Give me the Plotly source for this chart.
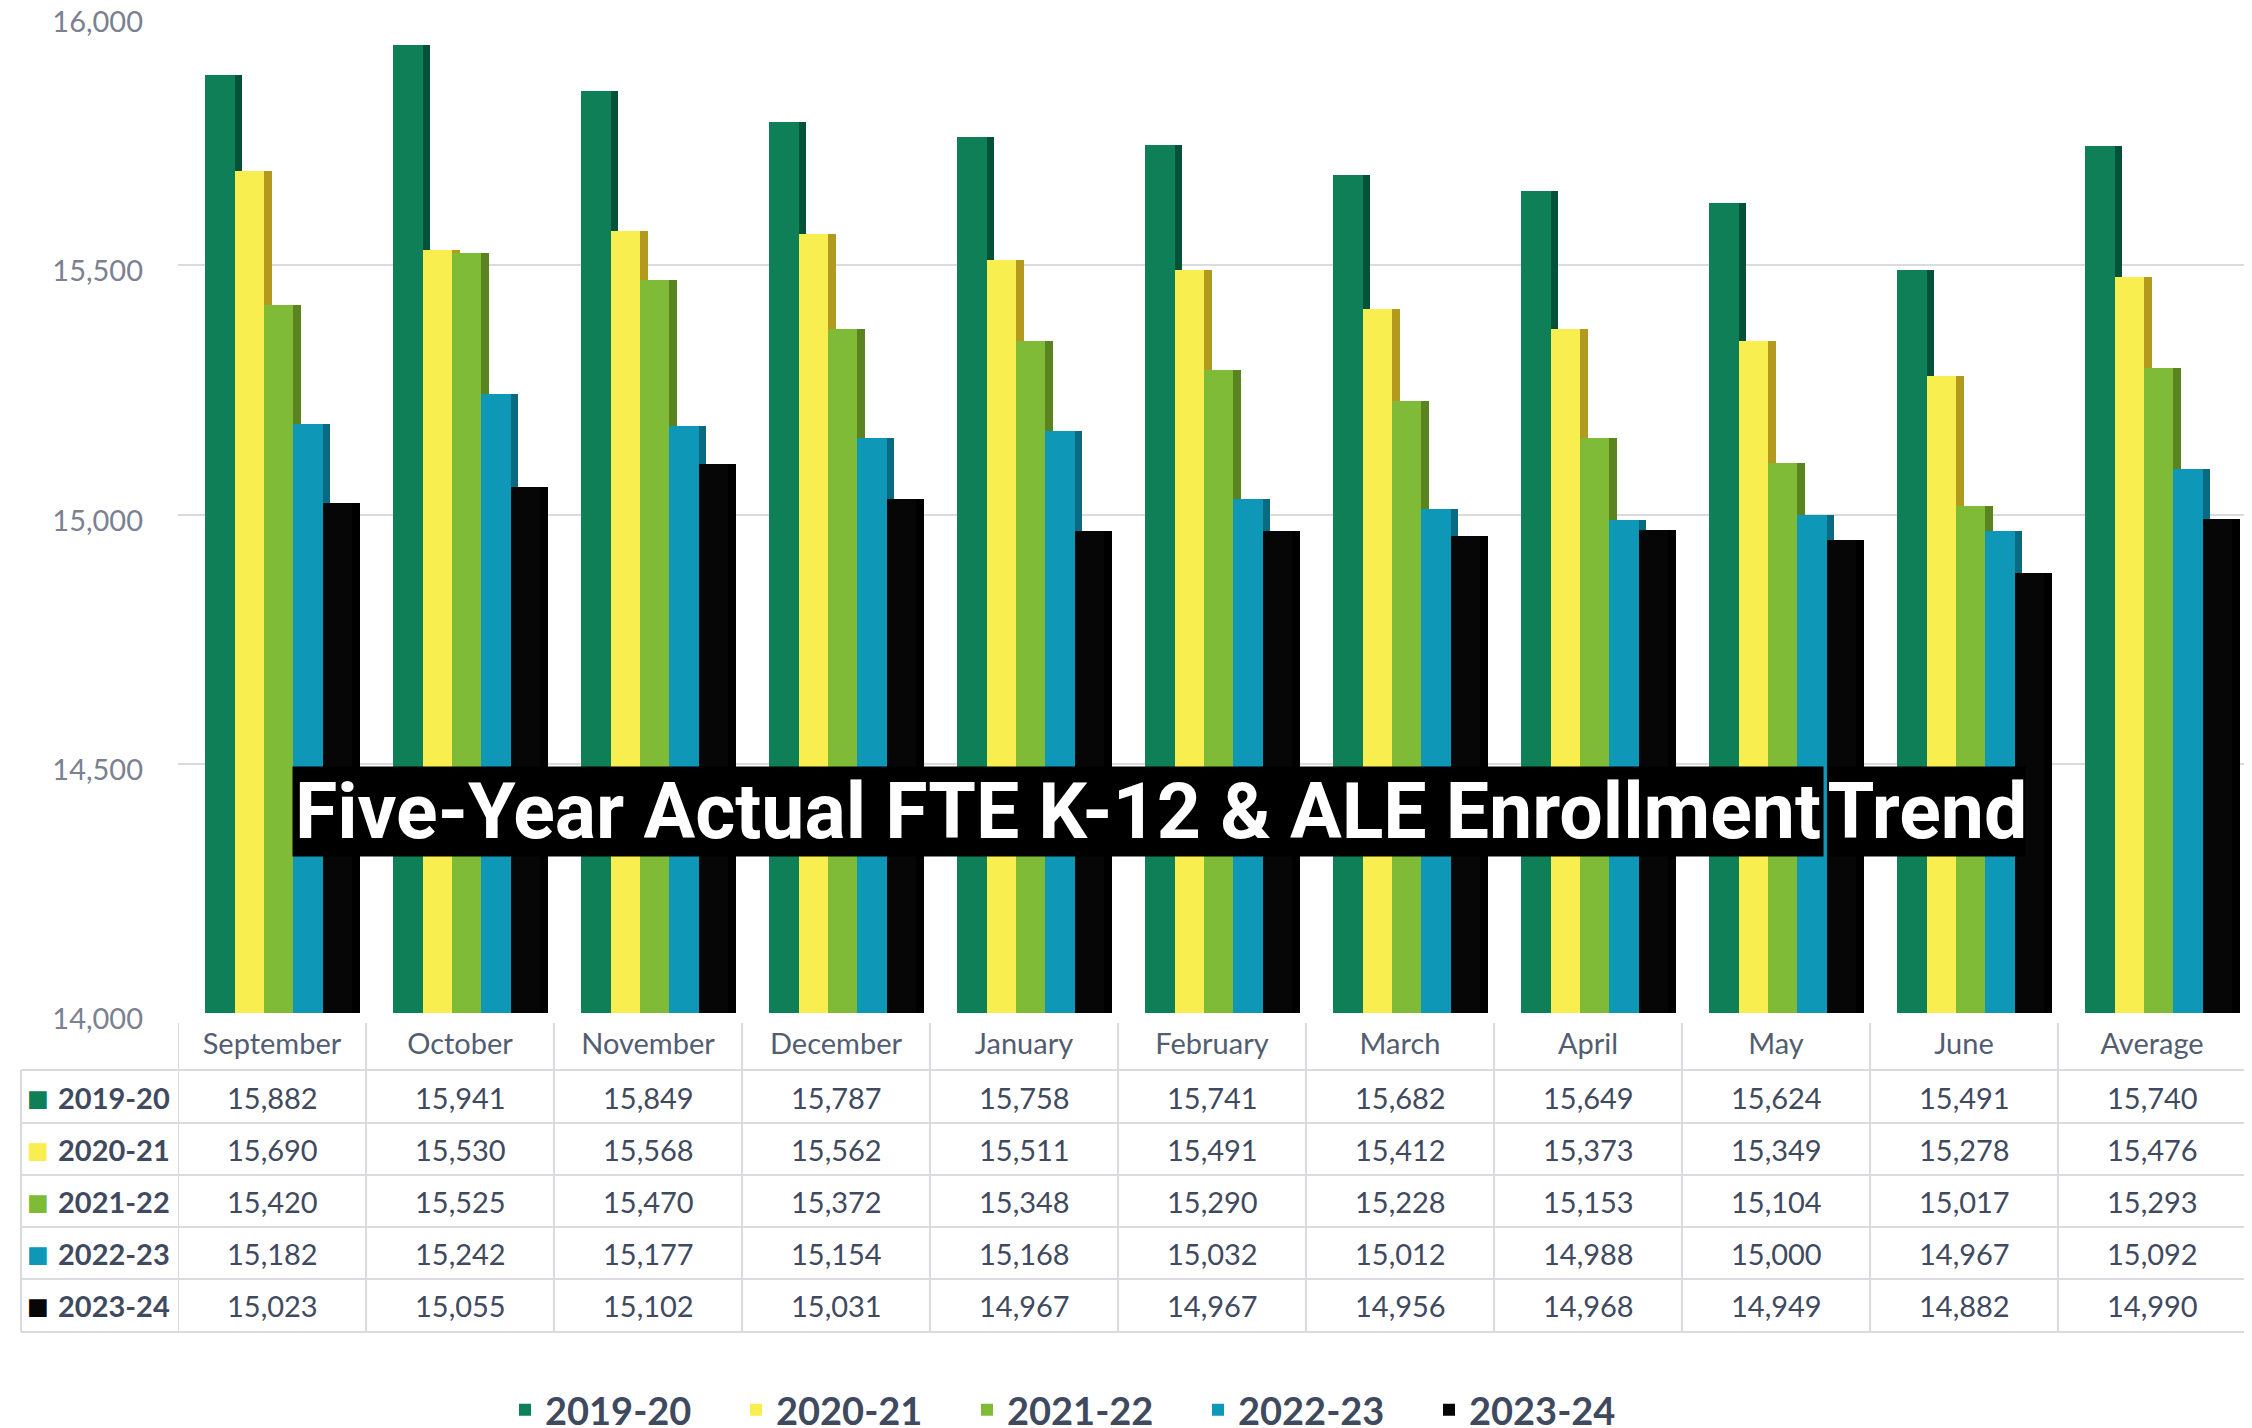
import plotly.graph_objects as go

# ---------------- data ----------------
months = ["September", "October", "November", "December", "January", "February",
          "March", "April", "May", "June", "Average"]
seasons = ["2019-20", "2020-21", "2021-22", "2022-23", "2023-24"]
v_2019_20 = [15882, 15941, 15849, 15787, 15758, 15741, 15682, 15649, 15624, 15491, 15740]
v_2020_21 = [15690, 15530, 15568, 15562, 15511, 15491, 15412, 15373, 15349, 15278, 15476]
v_2021_22 = [15420, 15525, 15470, 15372, 15348, 15290, 15228, 15153, 15104, 15017, 15293]
v_2022_23 = [15182, 15242, 15177, 15154, 15168, 15032, 15012, 14988, 15000, 14967, 15092]
v_2023_24 = [15023, 15055, 15102, 15031, 14967, 14967, 14956, 14968, 14949, 14882, 14990]
y_ticks = [14000, 14500, 15000, 15500, 16000]
title_main = "Five-Year Actual FTE K-12 & ALE Enrollment"
title_tail = "Trend"

series = [v_2019_20, v_2020_21, v_2021_22, v_2022_23, v_2023_24]
front_colors = ["#0e7f56", "#f9ee50", "#80bb38", "#0f97b7", "#060606"]
side_colors = ["#06513a", "#b39a1f", "#5a8420", "#096a82", "#000000"]

# ---------------- geometry ----------------
W, H = 2252, 1428
L, R, T, B = 170, 0, 8, 423
PW, PH = W - L - R, H - T - B
COL = 188.0  # px per category


def px_x(x):
    return (x - L) / PW


def px_y(y):
    return (H - B - y) / PH


TXT = "#3f4a5f"
FONT = "Lato"

fig = go.Figure()

start = -0.355
step = 0.156
side_w = 0.042
for i, (name, vals) in enumerate(zip(seasons, series)):
    off = start + i * step
    fig.add_trace(go.Bar(
        x=months, y=vals, name=name, showlegend=False, hoverinfo="skip",
        offset=off + step - 0.01, width=side_w + 0.01,
        marker=dict(color=side_colors[i], line=dict(width=0)),
    ))
    fig.add_trace(go.Bar(
        x=months, y=vals, name=name,
        offset=off, width=step,
        marker=dict(color=front_colors[i], line=dict(width=0)),
    ))

# ---------------- table ----------------
shapes = []
grid = "#d9dbe0"
header_top, header_bot = 1015, 1062
row_bots = [1115, 1167, 1219, 1271, 1324]
row_centers = [1089, 1141, 1193, 1245, 1297]
left_edge = 13
right_edge = L + 11 * COL

for k in range(len(months) + 1):
    shapes.append(dict(type="line", xref="x", yref="paper",
                       x0=k - 0.5, x1=k - 0.5,
                       y0=px_y(header_top), y1=px_y(row_bots[-1]),
                       line=dict(color=grid, width=2)))
shapes.append(dict(type="line", xref="paper", yref="paper",
                   x0=px_x(left_edge), x1=px_x(left_edge),
                   y0=px_y(header_bot), y1=px_y(row_bots[-1]),
                   line=dict(color=grid, width=2)))
for yy in [header_bot] + row_bots:
    shapes.append(dict(type="line", xref="paper", yref="paper",
                       x0=px_x(left_edge), x1=px_x(right_edge),
                       y0=px_y(yy), y1=px_y(yy),
                       line=dict(color=grid, width=2)))

annotations = []
for r, (name, vals) in enumerate(zip(seasons, series)):
    annotations.append(dict(
        xref="paper", yref="paper", x=px_x(17), y=px_y(row_centers[r] + 1),
        xanchor="left", yanchor="middle", showarrow=False,
        text="■", font=dict(family="DejaVu Sans", size=23, color=front_colors[r])))
    annotations.append(dict(
        xref="paper", yref="paper", x=px_x(48), y=px_y(row_centers[r]),
        xanchor="left", yanchor="middle", showarrow=False,
        text=name, font=dict(family=FONT, size=29, color=TXT, weight="bold")))
    for c, v in enumerate(vals):
        annotations.append(dict(
            xref="x", yref="paper", x=months[c], y=px_y(row_centers[r]),
            xanchor="center", yanchor="middle", showarrow=False,
            text=f"{v:,}", font=dict(family=FONT, size=29, color=TXT)))

# ---------------- title overlay ----------------
annotations.append(dict(
    xref="paper", yref="paper", x=px_x(284), y=px_y(803),
    xanchor="left", yanchor="middle", showarrow=False,
    text=f"<b>{title_main}</b>", width=1530, height=89, borderpad=0,
    bgcolor="#000000", align="center",
    font=dict(family="Roboto", size=77, color="#ffffff")))
annotations.append(dict(
    xref="paper", yref="paper", x=px_x(1820), y=px_y(803),
    xanchor="left", yanchor="middle", showarrow=False,
    text=f"<b>{title_tail}</b>", width=196, height=89, borderpad=0,
    bgcolor="#000000", align="center",
    font=dict(family="Roboto", size=77, color="#ffffff")))

fig.update_layout(
    width=W, height=H,
    margin=dict(l=L, r=R, t=T, b=B, autoexpand=False),
    paper_bgcolor="#ffffff", plot_bgcolor="#ffffff",
    barmode="overlay", bargap=0,
    showlegend=True,
    legend=dict(orientation="h", x=px_x(497), y=px_y(1402),
                xanchor="left", yanchor="middle",
                font=dict(family=FONT, size=38, color=TXT, weight="bold"),
                entrywidth=186, itemsizing="constant"),
    xaxis=dict(range=[-0.5, -0.5 + PW / COL], showgrid=False, zeroline=False,
               showline=False, ticks="", ticklabelstandoff=11,
               tickfont=dict(family=FONT, size=29, color="#525d72")),
    yaxis=dict(range=[14000, 16000], tickvals=y_ticks, tickformat=",",
               showgrid=True, gridcolor=grid, gridwidth=2, zeroline=False,
               showline=False, ticks="", ticklabelstandoff=34,
               ticklabeloverflow="allow", ticklabelshift=6,
               tickfont=dict(family=FONT, size=29, color="#7b8190")),
    shapes=shapes, annotations=annotations,
)

fig.write_html("out.html")
